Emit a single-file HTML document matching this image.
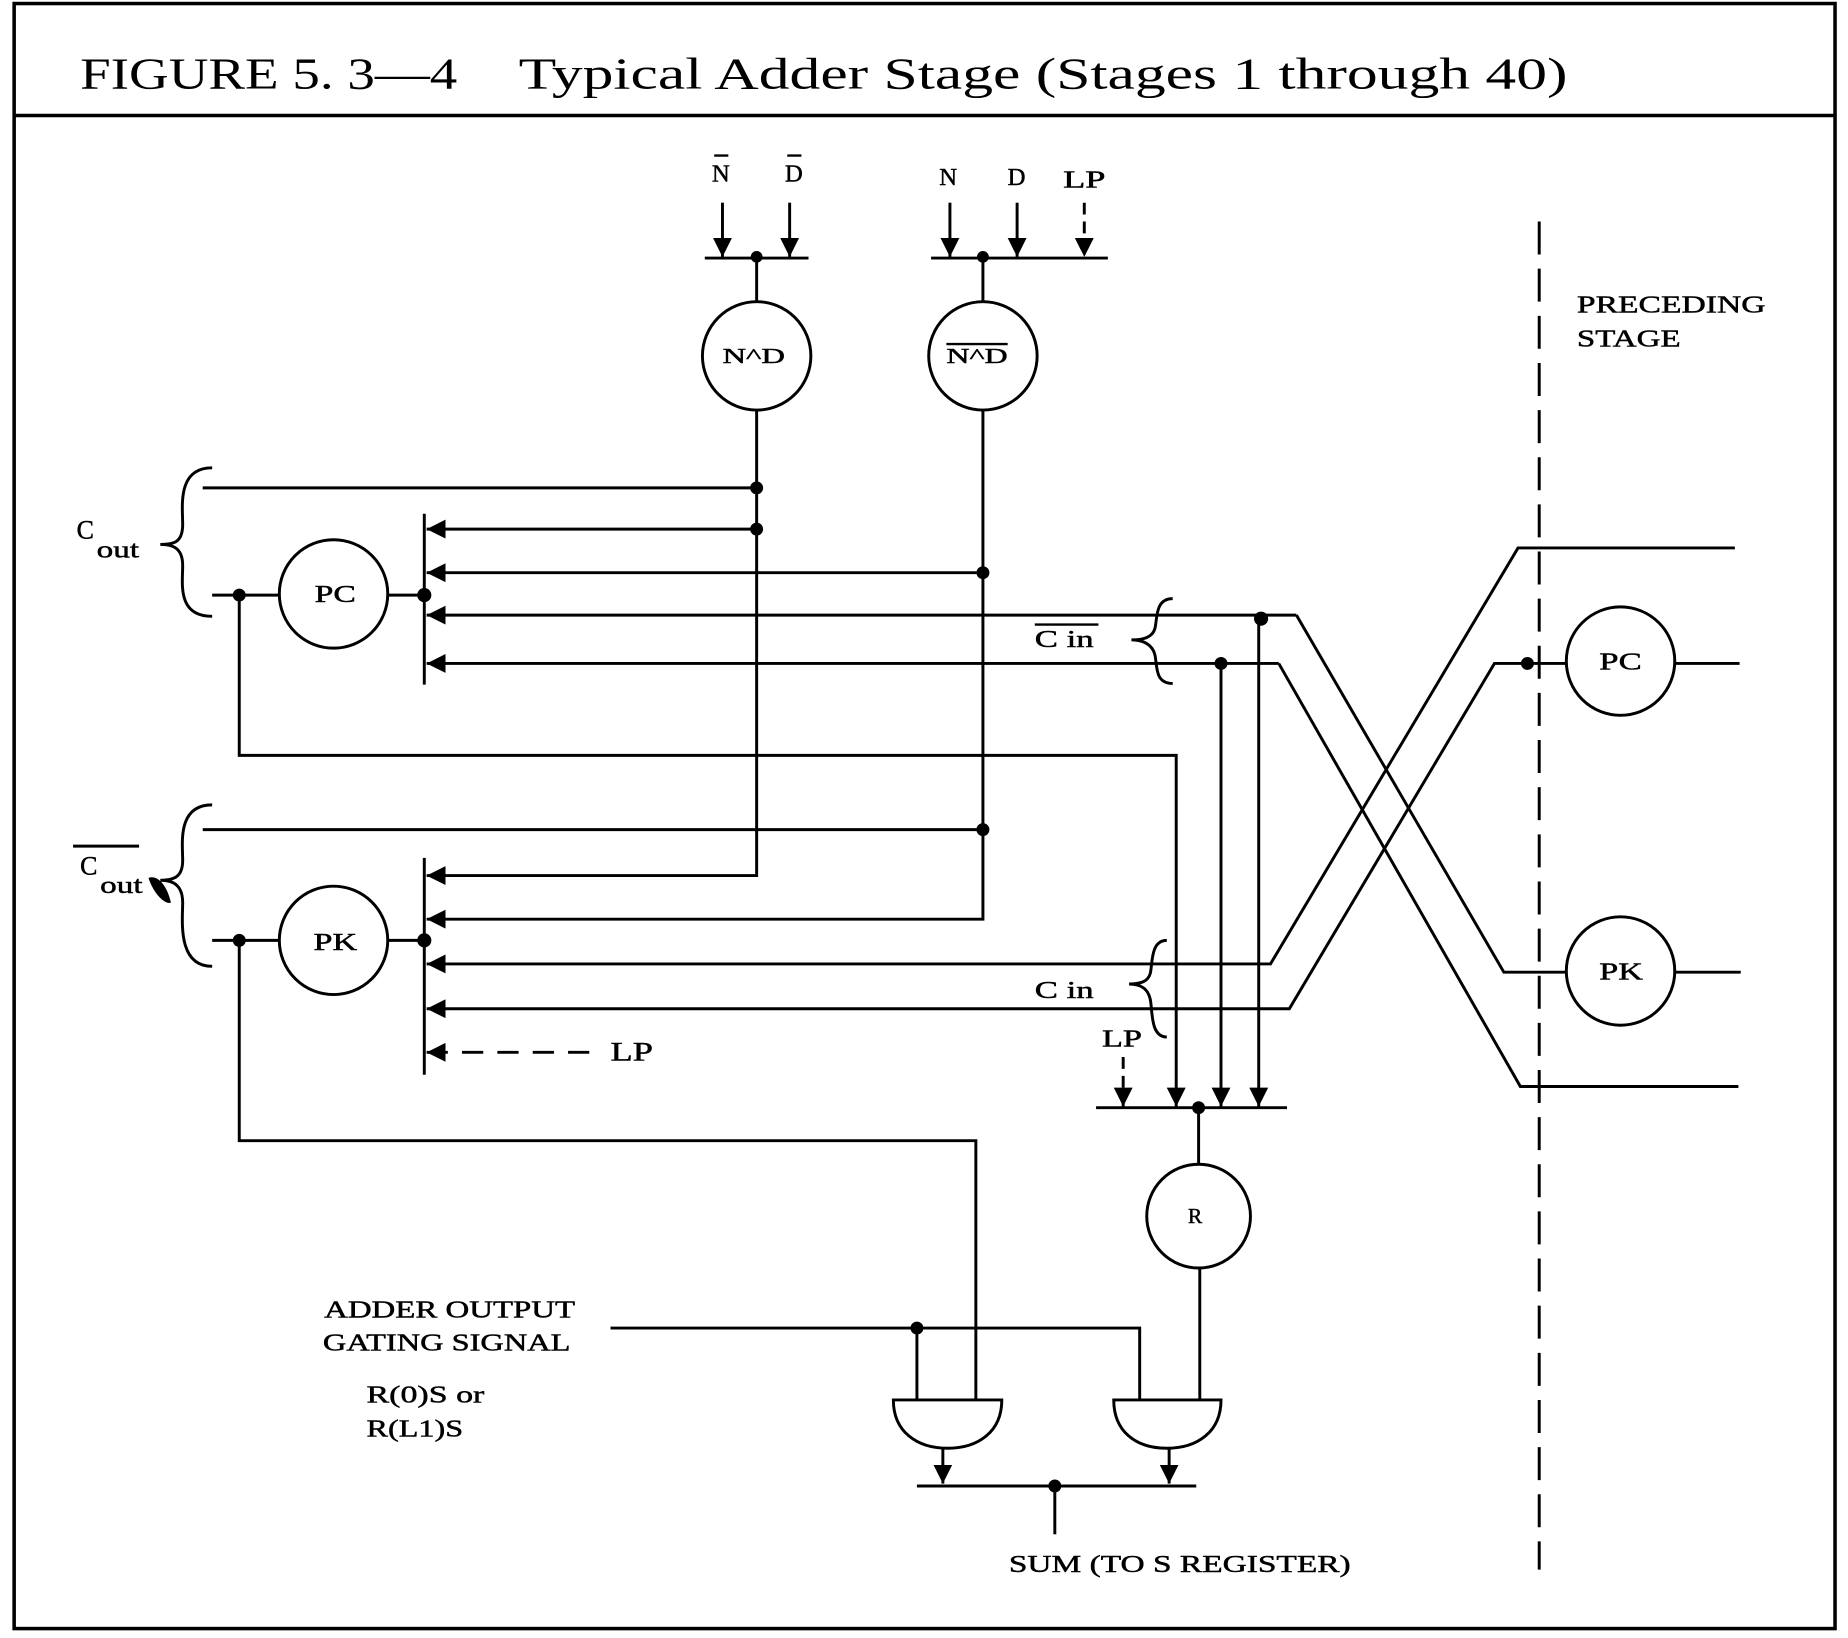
<!DOCTYPE html>
<html><head><meta charset="utf-8"><style>
html,body{margin:0;padding:0;background:#fff;}
svg{display:block;}
text{font-family:"Liberation Serif",serif;fill:#000;}
</style></head><body>
<svg width="1848" height="1638" viewBox="0 0 1568 1390" preserveAspectRatio="none" xmlns="http://www.w3.org/2000/svg">
<defs>
<marker id="a" viewBox="0 0 10 10" refX="10" refY="5" markerWidth="16" markerHeight="16" markerUnits="userSpaceOnUse" orient="auto"><path d="M0,0L10,5L0,10z" fill="#000"/></marker>
</defs>
<g stroke="#000" stroke-width="2.5" fill="none">
<rect x="12" y="3" width="1545" height="1379" stroke-width="3"/>
<line x1="12" y1="98" x2="1557" y2="98" stroke-width="3"/>

<line x1="613" y1="172" x2="613" y2="218" marker-end="url(#a)"/>
<line x1="670" y1="172" x2="670" y2="218" marker-end="url(#a)"/>
<line x1="598" y1="219" x2="686" y2="219"/>
<line x1="642" y1="219" x2="642" y2="256"/>
<circle cx="642" cy="302" r="46"/>
<line x1="806" y1="172" x2="806" y2="218" marker-end="url(#a)"/>
<line x1="863" y1="172" x2="863" y2="218" marker-end="url(#a)"/>
<line x1="920" y1="172" x2="920" y2="218" stroke-dasharray="10,6" marker-end="url(#a)"/>
<line x1="790" y1="219" x2="940" y2="219"/>
<line x1="834" y1="219" x2="834" y2="256"/>
<circle cx="834" cy="302" r="46"/>

<polyline points="642,348 642,743 362,743" marker-end="url(#a)"/>
<line x1="642" y1="414" x2="172" y2="414"/>
<line x1="642" y1="449" x2="362" y2="449" marker-end="url(#a)"/>
<polyline points="834,348 834,780 362,780" marker-end="url(#a)"/>
<line x1="834" y1="486" x2="362" y2="486" marker-end="url(#a)"/>
<line x1="834" y1="704" x2="172" y2="704"/>

<line x1="360" y1="436" x2="360" y2="581"/>
<line x1="360" y1="728" x2="360" y2="912"/>

<polyline points="1100,522 1276,825 1330,825"/>
<line x1="1100" y1="522" x2="362" y2="522" marker-end="url(#a)"/>
<polyline points="1085,563 1290,922 1475,922"/>
<line x1="1085" y1="563" x2="362" y2="563" marker-end="url(#a)"/>
<polyline points="1472,465 1288,465 1078,818 362,818" marker-end="url(#a)"/>
<polyline points="1330,563 1268,563 1094,856 362,856" marker-end="url(#a)"/>
<line x1="500" y1="893" x2="362" y2="893" stroke-dasharray="18,12" marker-end="url(#a)"/>

<circle cx="283" cy="504" r="46"/>
<line x1="180" y1="505" x2="237" y2="505"/>
<line x1="329" y1="505" x2="360" y2="505"/>
<polyline points="203,505 203,641 998,641 998,939" marker-end="url(#a)"/>
<circle cx="283" cy="798" r="46"/>
<line x1="180" y1="798" x2="237" y2="798"/>
<line x1="329" y1="798" x2="360" y2="798"/>
<polyline points="203,798 203,968 828,968 828,1188"/>

<path d="M180,397 C150,397 155,430 155,445 C155,460 148,462 136,462 C148,462 155,466 155,480 C155,495 150,523 180,523"/>
<path d="M180,683 C150,683 155,716 155,730 C155,744 148,747 136,747 C148,747 155,752 155,766 C155,780 150,820 180,820"/>
<path d="M995,508 C980,508 982,525 980,533 C978,541 970,543 960,543 C970,543 978,547 980,556 C982,566 980,580 995,580"/>
<path d="M990,798 C976,798 978,818 976,826 C974,833 968,835 958,835 C968,835 974,839 976,848 C978,858 976,880 990,880"/>
<path d="M62,718 L118,718"/>

<line x1="1036" y1="563" x2="1036" y2="939" marker-end="url(#a)"/>
<line x1="1068" y1="522" x2="1068" y2="939" marker-end="url(#a)"/>
<line x1="953" y1="897" x2="953" y2="939" stroke-dasharray="10,6" marker-end="url(#a)"/>
<line x1="930" y1="940" x2="1092" y2="940"/>
<line x1="1017" y1="940" x2="1017" y2="988"/>
<circle cx="1017" cy="1032" r="44"/>
<line x1="1018" y1="1076" x2="1018" y2="1188"/>

<polyline points="518,1127 967,1127 967,1188"/>
<line x1="778" y1="1127" x2="778" y2="1188"/>
<path d="M758,1188 L850,1188 C850,1215 830,1229 804,1229 C778,1229 758,1215 758,1188 Z"/>
<path d="M945,1188 L1036,1188 C1036,1215 1016,1229 990,1229 C964,1229 945,1215 945,1188 Z"/>
<line x1="800" y1="1229" x2="800" y2="1259" marker-end="url(#a)"/>
<line x1="992" y1="1229" x2="992" y2="1259" marker-end="url(#a)"/>
<line x1="778" y1="1261" x2="1015" y2="1261"/>
<line x1="895" y1="1261" x2="895" y2="1302"/>

<line x1="1306" y1="188" x2="1306" y2="1332" stroke-dasharray="28,12"/>
<circle cx="1375" cy="561" r="46"/>
<line x1="1421" y1="563" x2="1476" y2="563"/>
<circle cx="1375" cy="824" r="46"/>
<line x1="1421" y1="825" x2="1477" y2="825"/>
</g>
<g fill="#000">
<circle cx="642" cy="218" r="5"/><circle cx="834" cy="218" r="5"/>
<circle cx="642" cy="414" r="5.5"/><circle cx="642" cy="449" r="5.5"/>
<circle cx="834" cy="486" r="5.5"/><circle cx="834" cy="704" r="5.5"/>
<circle cx="360" cy="505" r="6"/><circle cx="360" cy="798" r="6"/>
<circle cx="203" cy="505" r="5.5"/><circle cx="203" cy="798" r="5.5"/>
<circle cx="1070" cy="525" r="6"/><circle cx="1036" cy="563" r="5.5"/>
<circle cx="1017" cy="940" r="5.5"/><circle cx="778" cy="1127" r="5.5"/>
<circle cx="895" cy="1261" r="5.5"/><circle cx="1296" cy="563" r="5.5"/>
<path d="M126,745 C134,742 142,752 145,766 C140,768 130,758 126,745Z"/>
</g>
<g font-size="38">
<text x="68" y="75" textLength="320" lengthAdjust="spacingAndGlyphs">FIGURE 5. 3—4</text>
<text x="440" y="75" textLength="890" lengthAdjust="spacingAndGlyphs">Typical Adder Stage (Stages 1 through 40)</text>
</g>
<g font-size="21" stroke="#000" stroke-width="0.4">
<text x="604" y="154">N</text><text x="666" y="154">D</text>
<line x1="606" y1="132" x2="618" y2="132" stroke-width="2"/>
<line x1="668" y1="132" x2="680" y2="132" stroke-width="2"/>
<text x="797" y="157">N</text><text x="855" y="157">D</text><text x="902" y="159" textLength="36" lengthAdjust="spacingAndGlyphs">LP</text>
<text x="613" y="308" font-size="18" textLength="53" lengthAdjust="spacingAndGlyphs">N^D</text>
<text x="803" y="308" font-size="18" textLength="52" lengthAdjust="spacingAndGlyphs">N^D</text>
<line x1="803" y1="292" x2="855" y2="292" stroke-width="2"/>
<text x="267" y="511" textLength="35" lengthAdjust="spacingAndGlyphs">PC</text><text x="266" y="806" textLength="37" lengthAdjust="spacingAndGlyphs">PK</text>
<text x="1357" y="568" textLength="36" lengthAdjust="spacingAndGlyphs">PC</text><text x="1357" y="831" textLength="37" lengthAdjust="spacingAndGlyphs">PK</text>
<text x="1008" y="1038" font-size="18">R</text>
<text x="65" y="457" font-size="22">C</text><text x="82" y="473" textLength="36" lengthAdjust="spacingAndGlyphs">out</text>
<text x="68" y="742" font-size="22">C</text><text x="85" y="758" textLength="36" lengthAdjust="spacingAndGlyphs">out</text>
<text x="878" y="549" textLength="50" lengthAdjust="spacingAndGlyphs">C in</text>
<line x1="878" y1="530" x2="932" y2="530" stroke-width="2"/>
<text x="878" y="847" textLength="50" lengthAdjust="spacingAndGlyphs">C in</text>
<text x="935" y="888" textLength="34" lengthAdjust="spacingAndGlyphs">LP</text>
<text x="518" y="900" font-size="22" textLength="36" lengthAdjust="spacingAndGlyphs">LP</text>
<text x="1338" y="265" textLength="160" lengthAdjust="spacingAndGlyphs">PRECEDING</text><text x="1338" y="294" textLength="88" lengthAdjust="spacingAndGlyphs">STAGE</text>
<text x="275" y="1118" textLength="213" lengthAdjust="spacingAndGlyphs">ADDER OUTPUT</text><text x="274" y="1146" textLength="210" lengthAdjust="spacingAndGlyphs">GATING SIGNAL</text>
<text x="311" y="1190" textLength="100" lengthAdjust="spacingAndGlyphs">R(0)S or</text><text x="311" y="1219" textLength="82" lengthAdjust="spacingAndGlyphs">R(L1)S</text>
<text x="856" y="1334" textLength="290" lengthAdjust="spacingAndGlyphs">SUM (TO S REGISTER)</text>
</g>
</svg>
</body></html>
